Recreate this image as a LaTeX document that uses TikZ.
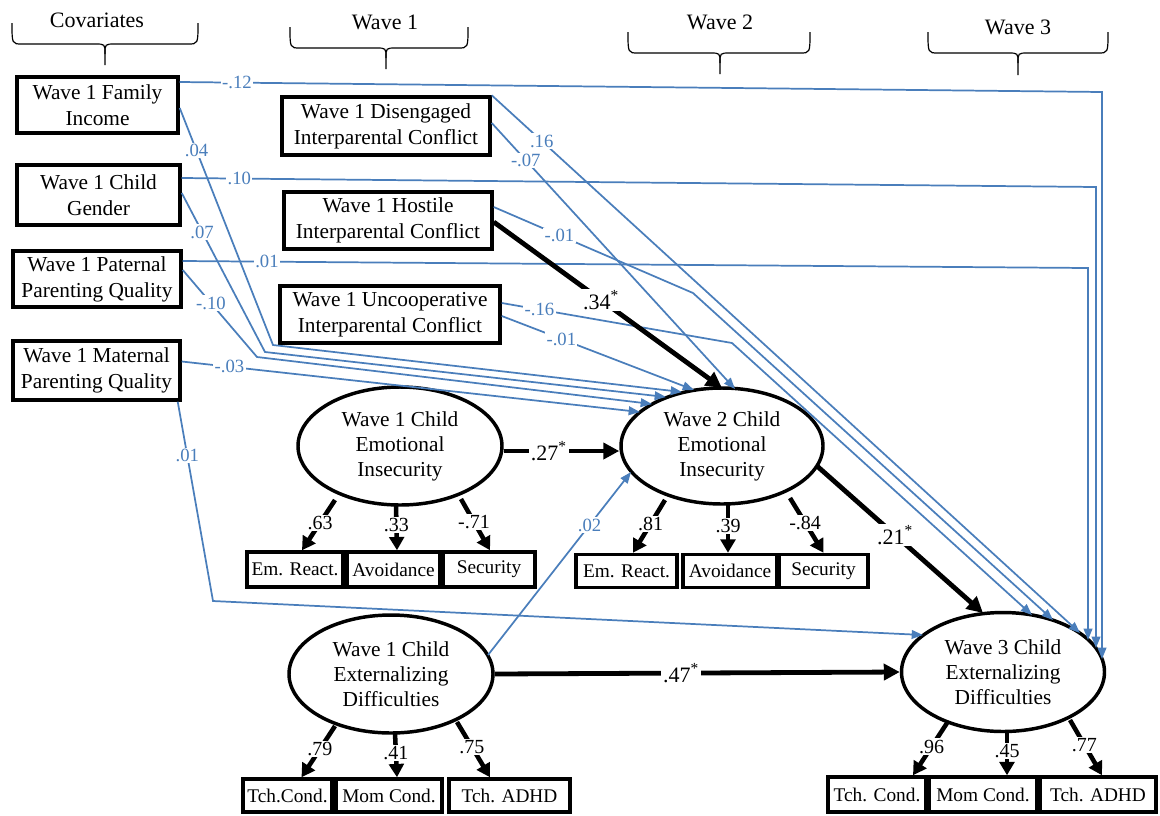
\documentclass[tikz,border=0pt]{standalone}
\usepackage{fontspec}
\setmainfont{Liberation Serif}
\usetikzlibrary{arrows.meta,shapes.geometric,calc}
\definecolor{pathblue}{RGB}{74,126,187}
\newcommand{\wbrace}[6]{%
  \draw[bracestyle] (#1,#3) .. controls (#1,#4) .. (#1+10,#4) -- (#5-10,#4) .. controls (#5,#4) .. (#5,#4+10) -- (#5,#6);
  \draw[bracestyle] (#5,#4+10) .. controls (#5,#4) .. (#5+10,#4) -- (#2-10,#4) .. controls (#2,#4) .. (#2,#3);}
\begin{document}
\begin{tikzpicture}[x=0.75pt,y=-0.75pt,
  obs/.style={draw,line width=2.6pt,inner sep=0pt,align=center,font=\fontsize{16}{19.5}\selectfont},
  ind/.style={draw,line width=2.6pt,inner sep=0pt,align=center,font=\fontsize{14.5}{17}\selectfont},
  lat/.style={draw,ellipse,line width=2.6pt,inner sep=0pt,align=center,minimum width=153pt,minimum height=88.5pt,font=\fontsize{16}{18.75}\selectfont},
  bl/.style={draw=pathblue,line width=1.3pt,-{Triangle[length=8.5pt,width=6.5pt]}},
  bk/.style={draw=black,line width=3.6pt,-{Triangle[length=12pt,width=12pt]}},
  ld/.style={draw=black,line width=3.4pt,-{Triangle[length=10pt,width=11pt]}},
  bll/.style={fill=white,inner sep=1pt,text=pathblue,font=\fontsize{14}{16}\selectfont},
  bkl/.style={fill=white,inner sep=1.5pt,font=\fontsize{16.5}{18}\selectfont},
  ldl/.style={fill=white,inner sep=1pt,font=\fontsize{15}{17}\selectfont},
  hdr/.style={inner sep=0pt,font=\fontsize{16.5}{18}\selectfont},
  bracestyle/.style={draw,line width=0.9pt},
]
\useasboundingbox (0,0) rectangle (1160,815);

% headers
\node[hdr] (hcov) at (97,20) {Covariates};
\node[hdr] (hw1) at (385,22) {Wave 1};
\node[hdr] (hw2) at (720,22) {Wave 2};
\node[hdr] (hw3) at (1018,27) {Wave 3};
\wbrace{12}{198}{23}{44}{105}{65}
\wbrace{290}{468}{27}{48}{386}{69}
\wbrace{628}{810}{32}{53}{720}{74}
\wbrace{928}{1108}{32}{53}{1018}{75}

% covariates
\node[obs,minimum width=120.75pt,minimum height=42pt] (inc) at (97.5,105) {Wave 1 Family\\Income};
\node[obs,minimum width=122.25pt,minimum height=45pt] (gen) at (98.5,195) {Wave 1 Child\\Gender};
\node[obs,minimum width=126pt,minimum height=42pt] (pat) at (97,279) {Wave 1 Paternal\\Parenting Quality};
\node[obs,minimum width=125.25pt,minimum height=44.25pt] (mat) at (96.5,370.5) {Wave 1 Maternal\\Parenting Quality};

% wave 1 conflict
\node[obs,minimum width=156pt,minimum height=43.5pt] (dis) at (386,126) {Wave 1 Disengaged\\Interparental Conflict};
\node[obs,minimum width=156pt,minimum height=42.75pt] (hos) at (388,220.5) {Wave 1 Hostile\\Interparental Conflict};
\node[obs,minimum width=165pt,minimum height=42.75pt] (unc) at (390,314.5) {Wave 1 Uncooperative\\Interparental Conflict};

% latent variables
\node[lat] (e1) at (400,446) {Wave 1 Child\\Emotional\\Insecurity};
\node[lat,minimum width=151.5pt,minimum height=87pt] (e2) at (722,446) {Wave 2 Child\\Emotional\\Insecurity};
\node[lat] (x1) at (391,674) {Wave 1 Child\\Externalizing\\Difficulties};
\node[lat,minimum width=152.25pt,minimum height=89.25pt] (x3) at (1003,672) {Wave 3 Child\\Externalizing\\Difficulties};

% indicators
\node[ind,minimum width=72pt,minimum height=26.25pt] (e1a) at (295,569.5) {Em. React.};
\node[ind,minimum width=69.75pt,minimum height=26.25pt] (e1b) at (393.5,569.5) {Avoidance};
\node[ind,minimum width=69pt,minimum height=26.25pt] (e1c) at (489,569.5) {Security};
\node[ind,minimum width=75.75pt,minimum height=24.75pt] (e2a) at (626.5,571) {Em. React.};
\node[ind,minimum width=70.5pt,minimum height=24.75pt] (e2b) at (730,571) {Avoidance};
\node[ind,minimum width=66.75pt,minimum height=24.75pt] (e2c) at (823.5,571) {Security};
\node[ind,minimum width=66.75pt,minimum height=24.75pt] (x1a) at (287.5,795.5) {Tch.Cond.};
\node[ind,minimum width=79.5pt,minimum height=24.75pt] (x1b) at (389,795.5) {Mom Cond.};
\node[ind,minimum width=90.75pt,minimum height=24.75pt] (x1c) at (509.5,795.5) {Tch. ADHD};
\node[ind,minimum width=73.5pt,minimum height=26.25pt] (x3a) at (877,794.5) {Tch. Cond.};
\node[ind,minimum width=81pt,minimum height=26.25pt] (x3b) at (983,794.5) {Mom Cond.};
\node[ind,minimum width=87pt,minimum height=26.25pt] (x3c) at (1098,794.5) {Tch. ADHD};

% bend coordinates
\coordinate (b1) at (1102,92);
\coordinate (b2) at (1096,187);
\coordinate (b3) at (1088,268);
\coordinate (b4) at (273,345);
\coordinate (b5) at (265,352);
\coordinate (b6) at (257,357);
\coordinate (b8) at (213,601);
\coordinate (b11) at (693,293);
\coordinate (b12) at (732,343);

% blue paths
\draw[bl] ($(inc.east)+(0,-23)$) -- node[bll,pos=0.062]{-.12} (b1) -- ($(x3)+(99,-13)$);
\draw[bl] ($(gen.east)+(0,-17)$) -- node[bll,pos=0.063]{.10} (b2) -- ($(x3)+(93,-24)$);
\draw[bl] ($(pat.east)+(0,-18)$) -- node[bll,pos=0.093]{.01} (b3) -- ($(x3)+(85,-32)$);
\draw[bl] ($(inc.east)+(0,3)$) -- node[bll,pos=0.18]{.04} (b4) -- ($(e2)+(-40,-54)$);
\draw[bl] ($(gen.east)+(0,-2)$) -- node[bll,pos=0.245]{.07} (b5) -- ($(e2)+(-56,-49)$);
\draw[bl] ($(pat.east)+(0,-9)$) -- node[bll,pos=0.38]{-.10} (b6) -- ($(e2)+(-70,-42)$);
\draw[bl] ($(mat.east)+(0,-9)$) -- node[bll,pos=0.104]{-.03} ($(e2)+(-82,-34)$);
\draw[bl] ($(mat.south east)+(-4,0)$) -- node[bll,pos=0.27]{.01} (b8) -- ($(x3)+(-80,-37)$);
\draw[bl] (dis.north east) -- node[bll,pos=0.085]{.16} ($(x3)+(77,-39)$);
\draw[bl] ($(dis.east)+(0,-3)$) -- node[bll,pos=0.14]{-.07} ($(e2)+(13,-57)$);
\draw[bl] ($(hos.east)+(0,-13.5)$) -- node[bll,pos=0.33]{-.01} (b11) -- ($(x3)+(50,-52)$);
\draw[bl] ($(unc.east)+(0,-11.5)$) -- node[bll,pos=0.164]{-.16} (b12) -- ($(x3)+(29,-57)$);
\draw[bl] ($(unc.east)+(0,1.5)$) -- node[bll,pos=0.31]{-.01} ($(e2)+(-28,-56)$);
\draw[bl] ($(x1)+(97,-19)$) -- node[bll,pos=0.71]{.02} ($(e2)+(-91,26)$);

% black structural paths
\draw[bk] ($(hos.east)+(0,1.5)$) -- node[bkl,pos=0.47]{.34\textsuperscript{*}} ($(e2)+(0,-58)$);
\draw[bk] ($(e1.east)+(0,5)$) -- node[bkl,pos=0.39]{.27\textsuperscript{*}} ($(e2.west)+(0,5)$);
\draw[bk] ($(e2)+(95,20)$) -- node[bkl,pos=0.47]{.21\textsuperscript{*}} ($(x3)+(-20,-59)$);
\draw[bk] (x1.east) -- node[bkl,pos=0.46]{.47\textsuperscript{*}} (x3.west);

% loadings
\draw[ld] ($(e1)+(-65,54)$) -- node[ldl,pos=0.45]{.63} ($(e1a.north)+(7,0)$);
\draw[ld] ($(e1)+(-4,59)$) -- node[ldl,pos=0.45]{.33} ($(e1b.north)+(3.5,0)$);
\draw[ld] ($(e1)+(61,53)$) -- node[ldl,pos=0.45]{-.71} ($(e1c.north)+(1,0)$);
\draw[ld] ($(e2)+(-57,54)$) -- node[ldl,pos=0.45]{.81} ($(e2a.north)+(6.5,0)$);
\draw[ld] ($(e2)+(6,58)$) -- node[ldl,pos=0.45]{.39} ($(e2b.north)+(-2,0)$);
\draw[ld] ($(e2)+(68,52)$) -- node[ldl,pos=0.45]{-.84} (e2c.north);
\draw[ld] ($(x1)+(-56,52)$) -- node[ldl,pos=0.45]{.79} ($(x1a.north)+(14,0)$);
\draw[ld] ($(x1)+(4,59)$) -- node[ldl,pos=0.45]{.41} ($(x1b.north)+(8,0)$);
\draw[ld] ($(x1)+(66,48)$) -- node[ldl,pos=0.45]{.75} ($(x1c.north)+(-19.5,0)$);
\draw[ld] ($(x3)+(-56,51)$) -- node[ldl,pos=0.45]{.96} ($(x3a.north)+(36,0)$);
\draw[ld] ($(x3)+(4,59)$) -- node[ldl,pos=0.45]{.45} ($(x3b.north)+(24,0)$);
\draw[ld] ($(x3)+(67,48)$) -- node[ldl,pos=0.45]{.77} ($(x3c.north)+(4,0)$);
\end{tikzpicture}
\end{document}
